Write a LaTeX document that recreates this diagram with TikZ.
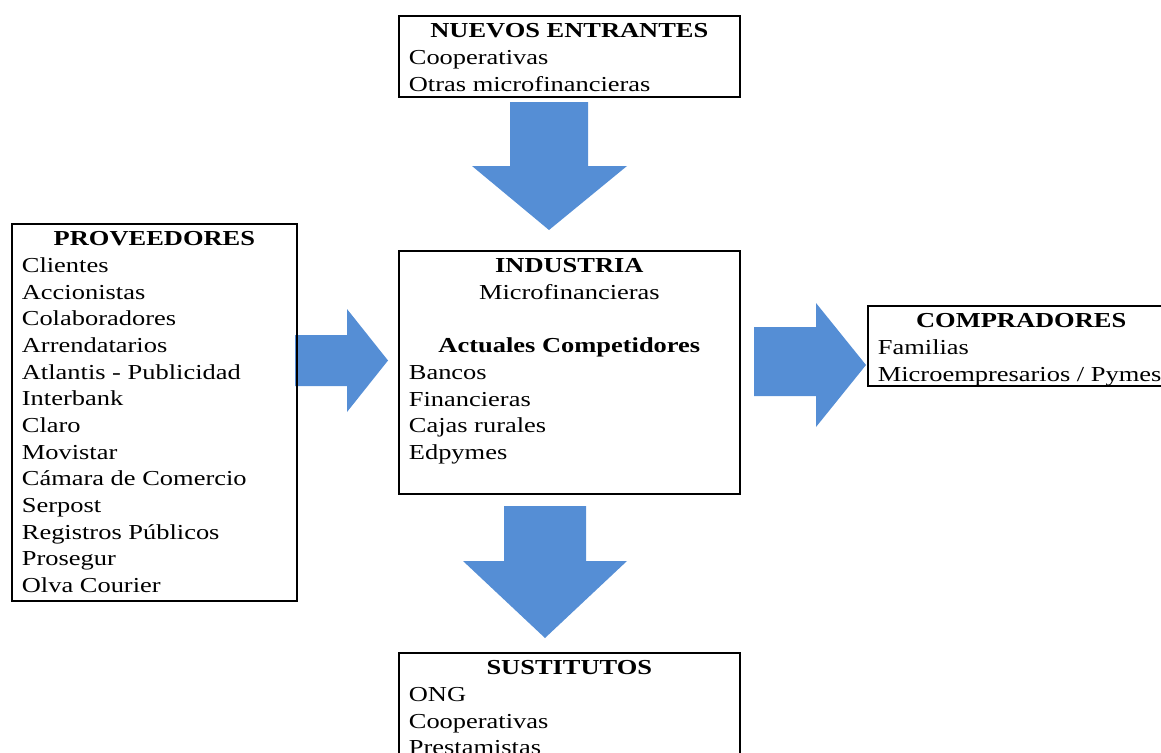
\documentclass[tikz,border=0pt]{standalone}
\usepackage{fontspec}
\setmainfont{Liberation Serif}[FakeStretch=1.24]
\definecolor{arrowblue}{RGB}{85,142,213}
\tikzset{
  box/.style={draw, line width=1.3pt, anchor=north west, inner xsep=7.5pt, inner ysep=0pt, font=\fontsize{16}{20}\selectfont},
  blockarrow/.style={fill=arrowblue}
}
\newcommand{\boxhead}[1]{\centerline{\rule{0pt}{16.5pt}\bfseries #1}}
\newcommand{\boxbody}[3]{\parbox[t][#1][t]{#2}{#3}}
\begin{document}
\begin{tikzpicture}[x=0.75pt,y=-0.75pt]
      \useasboundingbox (0,0) rectangle (1161,753);
      \clip (0,0) rectangle (1161,753);
      \fill[blockarrow] (510,102) -- (588,102) -- (588,166) -- (627,166) -- (549,230) -- (472,166) -- (510,166) -- cycle;
      \fill[blockarrow] (295,335) -- (347,335) -- (347,309) -- (388,360.5) -- (347,412) -- (347,386) -- (295,386) -- cycle;
      \fill[blockarrow] (754,327) -- (816,327) -- (816,303) -- (866,365) -- (816,427) -- (816,396) -- (754,396) -- cycle;
      \fill[blockarrow] (504,506) -- (586,506) -- (586,561) -- (627,561) -- (545,638) -- (463,561) -- (504,561) -- cycle;
      \node[box] (entrantes) at (398,15) {\boxbody{60.75pt}{240.75pt}{\boxhead{NUEVOS ENTRANTES}
        Cooperativas\\Otras microfinancieras}};
      \node[box] (proveedores) at (11,223) {\boxbody{282.75pt}{198.75pt}{\boxhead{PROVEEDORES}
        Clientes\\Accionistas\\Colaboradores\\Arrendatarios\\Atlantis - Publicidad\\Interbank\\Claro\\Movistar\\C\'amara de Comercio\\Serpost\\Registros P\'ublicos\\Prosegur\\Olva Courier}};
      \node[box] (industria) at (398,250) {\boxbody{182.25pt}{240.75pt}{\boxhead{INDUSTRIA}
        \centerline{Microfinancieras}
        \centerline{}
        \centerline{\bfseries Actuales Competidores}
        Bancos\\Financieras\\Cajas rurales\\Edpymes}};
      \node[box] (compradores) at (867,305) {\boxbody{60pt}{215pt}{\boxhead{COMPRADORES}
        Familias\\\mbox{Microempresarios / Pymes}}};
      \node[box] (sustitutos) at (398,652) {\boxbody{97.5pt}{240.75pt}{\boxhead{SUSTITUTOS}
        ONG\\Cooperativas\\Prestamistas}};
    \end{tikzpicture}
\end{document}
